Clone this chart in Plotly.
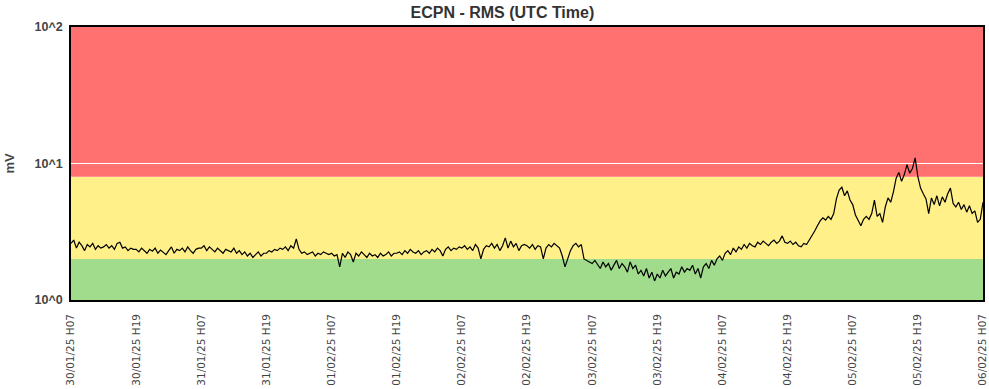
import pandas as pd
import plotly.graph_objects as go

# ---------------- data (30-minute samples) ----------------
start_time = "2025-01-30 07:00"

d30_h07 = [2.6, 2.75, 2.4, 2.65, 2.5, 2.3, 2.55, 2.45, 2.6, 2.35, 2.5, 2.4,
           2.45, 2.55, 2.4, 2.5, 2.35, 2.6, 2.65, 2.4, 2.45, 2.3, 2.4, 2.35]
d30_h19 = [2.35, 2.25, 2.4, 2.3, 2.2, 2.35, 2.28, 2.4, 2.2, 2.32, 2.25, 2.15,
           2.3, 2.45, 2.2, 2.35, 2.3, 2.4, 2.25, 2.45, 2.3, 2.2, 2.35, 2.4]
d31_h07 = [2.4, 2.5, 2.3, 2.45, 2.35, 2.25, 2.4, 2.3, 2.2, 2.35, 2.3, 2.25,
           2.4, 2.2, 2.3, 2.15, 2.25, 2.1, 2.2, 2.05, 2.15, 2.25, 2.1, 2.2]
d31_h19 = [2.2, 2.3, 2.25, 2.35, 2.3, 2.4, 2.35, 2.45, 2.3, 2.5, 2.4, 2.8,
           2.35, 2.2, 2.25, 2.15, 2.2, 2.25, 2.1, 2.2, 2.15, 2.25, 2.2, 2.15]
d01_h07 = [2.2, 2.1, 2.15, 1.75, 2.2, 2.05, 2.25, 2.15, 1.9, 2.2, 2.1, 2.25,
           2.15, 2.05, 2.2, 2.1, 2.15, 2.05, 2.2, 2.1, 2.15, 2.25, 2.1, 2.2]
d01_h19 = [2.2, 2.25, 2.15, 2.3, 2.2, 2.35, 2.25, 2.2, 2.3, 2.15, 2.25, 2.3,
           2.2, 2.35, 2.25, 2.4, 2.3, 2.1, 2.35, 2.45, 2.3, 2.4, 2.35, 2.45]
d02_h07 = [2.4, 2.5, 2.35, 2.45, 2.3, 2.55, 2.4, 2.0, 2.35, 2.5, 2.45, 2.6,
           2.4, 2.55, 2.3, 2.5, 2.85, 2.4, 2.7, 2.45, 2.6, 2.3, 2.5, 2.55]
d02_h19 = [2.5, 2.4, 2.55, 2.35, 2.5, 2.45, 2.0, 2.4, 2.55, 2.45, 2.6, 2.5,
           2.4, 2.1, 1.75, 2.0, 2.3, 2.5, 2.6, 2.45, 2.55, 2.0, 1.95, 1.9]
d03_h07 = [1.85, 1.95, 1.8, 1.7, 1.9, 1.75, 1.85, 1.65, 1.8, 1.95, 1.7, 1.85,
           1.75, 1.6, 1.9, 1.7, 1.8, 1.55, 1.65, 1.5, 1.7, 1.45, 1.6, 1.38]
d03_h19 = [1.55, 1.45, 1.65, 1.5, 1.6, 1.7, 1.45, 1.6, 1.55, 1.75, 1.6, 1.7,
           1.65, 1.8, 1.55, 1.7, 1.45, 1.75, 1.85, 1.7, 1.95, 1.8, 2.0, 2.1]
d04_h07 = [1.95, 2.2, 2.3, 2.15, 2.4, 2.25, 2.45, 2.35, 2.55, 2.4, 2.6, 2.5,
           2.45, 2.65, 2.55, 2.7, 2.6, 2.5, 2.65, 2.75, 2.6, 2.7, 2.95, 2.65]
d04_h19 = [2.6, 2.7, 2.55, 2.65, 2.5, 2.45, 2.6, 2.55, 2.75, 2.95, 3.2, 3.5,
           3.8, 4.0, 3.85, 4.1, 3.9, 4.3, 5.5, 6.4, 6.7, 5.8, 6.3, 5.4]
d05_h07 = [5.0, 4.2, 3.8, 3.5, 3.9, 4.1, 3.9, 4.3, 5.4, 4.1, 4.3, 3.7,
           4.8, 5.6, 5.2, 6.2, 7.8, 8.6, 7.4, 8.3, 9.8, 8.5, 9.2, 11.0]
d05_h19 = [8.0, 6.6, 6.0, 5.5, 4.3, 5.6, 5.0, 5.8, 4.9, 5.7, 5.2, 6.0,
           6.6, 5.1, 4.8, 5.2, 4.6, 5.0, 4.4, 4.9, 4.3, 4.5, 3.7, 3.9]
d06_h07 = [5.2]

rms_values = (d30_h07 + d30_h19 + d31_h07 + d31_h19 + d01_h07 + d01_h19 +
              d02_h07 + d02_h19 + d03_h07 + d03_h19 + d04_h07 + d04_h19 +
              d05_h07 + d05_h19 + d06_h07)
times = pd.date_range(start_time, periods=len(rms_values), freq="30min")

tick_labels = ["30/01/25 H07", "30/01/25 H19", "31/01/25 H07", "31/01/25 H19",
               "01/02/25 H07", "01/02/25 H19", "02/02/25 H07", "02/02/25 H19",
               "03/02/25 H07", "03/02/25 H19", "04/02/25 H07", "04/02/25 H19",
               "05/02/25 H07", "05/02/25 H19", "06/02/25 H07"]
tick_times = pd.date_range(start_time, periods=len(tick_labels), freq="12h")

band_edges = [1, 2, 8, 100]
band_colors = ["#a0dc8c", "#fff08a", "#ff7070"]

y_tickvals = [1, 10, 100]
y_ticktext = ["10^0", "10^1", "10^2"]

# ---------------- figure ----------------
fig = go.Figure()
fig.add_trace(go.Scatter(x=times, y=rms_values, mode="lines",
                         line=dict(color="black", width=1.2), hoverinfo="x+y",
                         showlegend=False))

for lo, hi, col in zip(band_edges[:-1], band_edges[1:], band_colors):
    fig.add_shape(type="rect", xref="paper", yref="y", x0=0, x1=1, y0=lo, y1=hi,
                  fillcolor=col, line=dict(width=0), layer="below")

fig.update_layout(
    width=989, height=389,
    margin=dict(l=71, r=6, t=27, b=89, autoexpand=False),
    paper_bgcolor="white", plot_bgcolor="white",
    title=dict(text="ECPN - RMS (UTC Time)", x=0.508, xanchor="center",
               y=0.967, yanchor="middle",
               font=dict(family="Liberation Sans, Arial", size=16,
                         color="#333333", weight="bold")),
    xaxis=dict(range=[tick_times[0], tick_times[-1]],
               tickvals=tick_times, ticktext=tick_labels, tickangle=-90,
               tickfont=dict(family="DejaVu Sans", size=10.5, color="#444444"),
               ticks="outside", ticklen=8, tickcolor="rgba(0,0,0,0)",
               showgrid=False, zeroline=False, automargin=False,
               showline=True, mirror=True, linecolor="black", linewidth=1.5),
    yaxis=dict(type="log", range=[0, 2],
               tickvals=y_tickvals, ticktext=y_ticktext,
               tickfont=dict(family="Liberation Sans, Arial", size=12.5,
                             color="#444444", weight="bold"),
               ticks="outside", ticklen=4, tickcolor="rgba(0,0,0,0)",
               showgrid=True, gridcolor="white", gridwidth=1,
               zeroline=False, automargin=False,
               showline=True, mirror=True, linecolor="black", linewidth=1.5,
               title=dict(text="mV", standoff=17,
                          font=dict(family="Liberation Sans, Arial", size=13,
                                    color="#444444", weight="bold"))),
)

fig.write_html("out.html",
               config={"displayModeBar": False},
               post_script="document.body.style.margin='0';"
                           "document.body.style.overflow='hidden';")
